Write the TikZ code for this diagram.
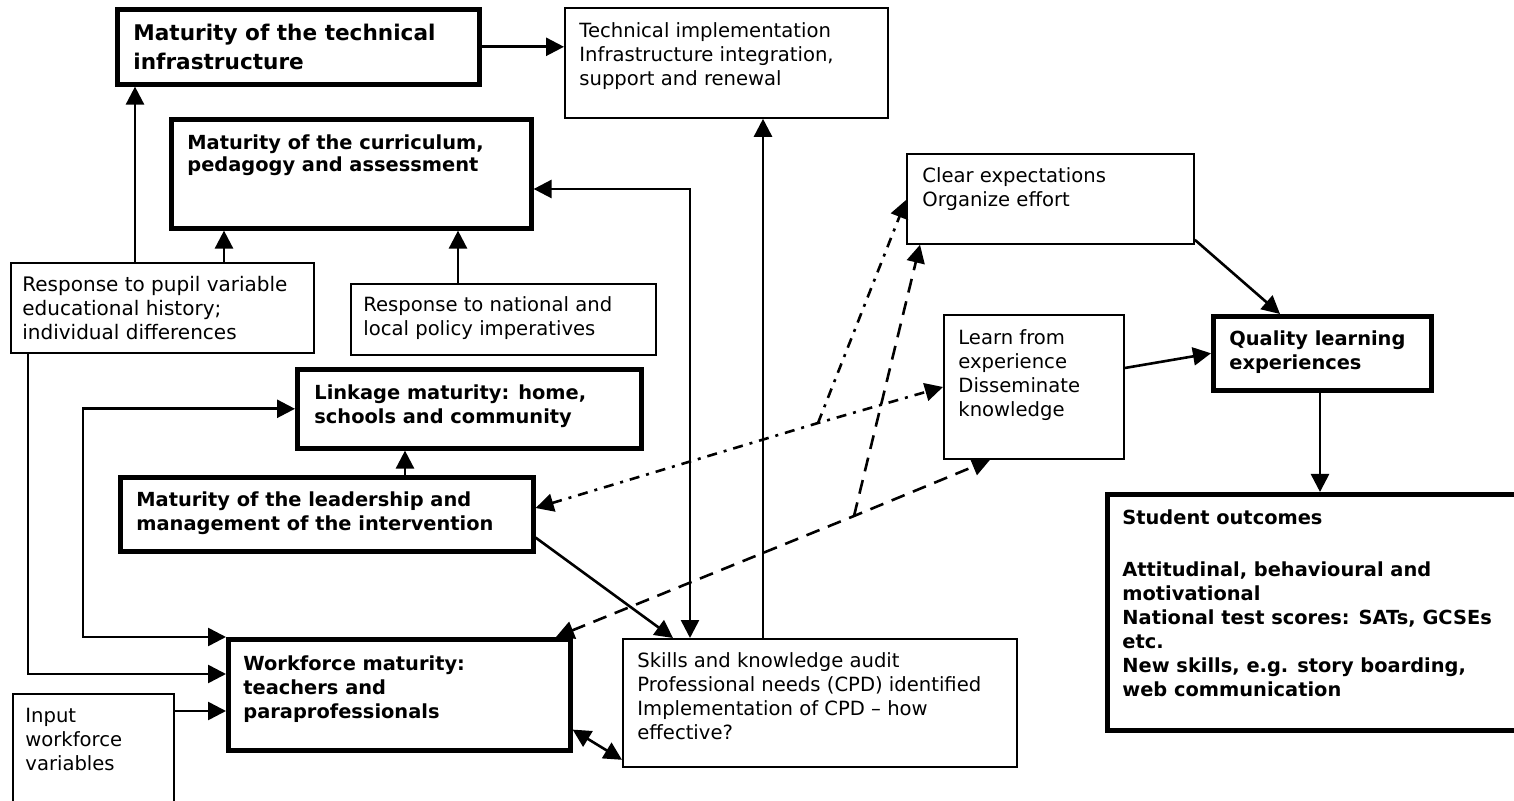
\documentclass[tikz,border=0pt]{standalone}
\usepackage{fontspec}
\setmainfont{DejaVu Sans}
\usetikzlibrary{arrows.meta,calc}
\begin{document}
\begin{tikzpicture}[x=0.5pt,y=-0.5pt,
  thickbox/.style={draw, line width=2.3pt, anchor=north west, inner sep=0pt},
  thinbox/.style={draw, line width=0.9pt, anchor=north west, inner sep=0pt},
  txt/.style={anchor=north west, inner sep=0pt, align=left, font=\fontsize{9.8}{12}\selectfont},
  btxt/.style={anchor=north west, inner sep=0pt, align=left, font=\fontsize{9.7}{12}\selectfont\bfseries},
  tip/.tip={Triangle[length=9pt,width=9pt]},
  conn/.style={line width=1.3pt, -tip},
  conntwo/.style={line width=1.3pt, tip-tip},
  dd/.style={line width=1.3pt, dash pattern=on 5pt off 3.5pt on 1.5pt off 3.5pt},
  dsh/.style={line width=1.3pt, dash pattern=on 7pt off 4.5pt},
]
\clip (0,0) rectangle (1514,801);
\fill[white] (0,0) rectangle (1514,801);

% boxes
\node[thickbox, minimum width=181pt, minimum height=37.5pt] (A) at (115,7) {};
\node[thinbox, minimum width=161.5pt, minimum height=55pt] (B) at (564,7) {};
\node[thickbox, minimum width=180pt, minimum height=54.5pt] (C) at (169,117) {};
\node[thinbox, minimum width=151.5pt, minimum height=45pt] (D) at (10,262) {};
\node[thinbox, minimum width=152.5pt, minimum height=35.5pt] (E) at (350,283) {};
\node[thickbox, minimum width=172pt, minimum height=39.5pt] (F) at (295,367) {};
\node[thickbox, minimum width=206.5pt, minimum height=37pt] (G) at (118,475) {};
\node[thickbox, minimum width=171pt, minimum height=55.5pt] (H) at (226,637) {};
\node[thinbox, minimum width=80.5pt, minimum height=70pt] (I) at (12,693) {};
\node[thinbox, minimum width=197pt, minimum height=64pt] (J) at (622,638) {};
\node[thinbox, minimum width=143.5pt, minimum height=45pt] (K) at (906,153) {};
\node[thinbox, minimum width=90pt, minimum height=72pt] (L) at (943,314) {};
\node[thickbox, minimum width=109pt, minimum height=37pt] (M) at (1211,314) {};
\node[thickbox, minimum width=215pt, minimum height=118pt] (N) at (1105,492) {};

% texts
\node[btxt, font=\fontsize{10.8}{14.5}\selectfont\bfseries] (At) at (133,24) {Maturity of the technical\\infrastructure};
\node[txt] (Bt) at (579,22) {Technical implementation\\Infrastructure integration,\\support and renewal};
\node[btxt, font=\fontsize{9.7}{11}\selectfont\bfseries] (Ct) at (187,134) {Maturity of the curriculum,\\pedagogy and assessment};
\node[txt, font=\fontsize{10}{12}\selectfont] (Dt) at (22,276) {Response to pupil variable\\educational history;\\individual differences};
\node[txt] (Et) at (363,296) {Response to national and\\local policy imperatives};
\node[btxt] (Ft) at (314,384) {Linkage maturity: home,\\schools and community};
\node[btxt] (Gt) at (136,491) {Maturity of the leadership and\\management of the intervention};
\node[btxt] (Ht) at (243,655) {Workforce maturity:\\teachers and\\paraprofessionals};
\node[txt] (It) at (25,708) {Input\\workforce\\variables};
\node[txt] (Jt) at (637,652) {Skills and knowledge audit\\Professional needs (CPD) identified\\Implementation of CPD -- how\\effective?};
\node[txt] (Kt) at (922,167) {Clear expectations\\Organize effort};
\node[txt] (Lt) at (958,329) {Learn from\\experience\\Disseminate\\knowledge};
\node[btxt] (Mt) at (1229,330) {Quality learning\\experiences};
\node[btxt] (Nt) at (1122,509) {Student outcomes\\[14pt]Attitudinal, behavioural and\\motivational\\National test scores: SATs, GCSEs\\etc.\\New skills, e.g. story boarding,\\web communication};

% solid connectors
\draw[conn] (A.east) -- (A.east -| B.west);
\draw[conn] (135,0 |- D.north) -- (135,0 |- A.south);
\draw[conn] (224,0 |- D.north) -- (224,0 |- C.south);
\draw[conn] (458,0 |- E.north) -- (458,0 |- C.south);
\draw[conntwo] (690,0 |- J.north) -- (690,189) -- (C.east |- 690,189);
\draw[conn] (763,0 |- J.north) -- (763,0 |- B.south);
\draw[conn] ($(G.south east)+(0,-16)$) -- (673,0 |- J.north);
\draw[conn] (405,0 |- G.north) -- (405,0 |- F.south);
\draw[conntwo] (F.west) -- (83,0 |- F.west) -- (83,637) -- (H.west |- 83,637);
\draw[conn] (28,0 |- D.south) -- (28,674) -- (H.west |- 28,674);
\draw[conn] (I.east |- 0,711) -- (H.west |- 0,711);
\draw[conntwo] ($(H.south east)+(0,-23)$) -- ($(J.south west)+(0,-8)$);
\draw[conn] ($(K.south east)+(0,-5)$) -- (1280,0 |- M.north);
\draw[conn] (L.east |- 0,368) -- (M.west);
\draw[conn] (1320,0 |- M.south) -- (1320,0 |- N.north);

% dash-dot connectors
\coordinate (bp1) at (818,423);
\draw[dd, tip-tip] (G.east |- 0,508) -- (bp1) -- (L.west |- 0,387);
\draw[dd, -tip] (bp1) -- (K.west |- 0,200);
% dashed connectors
\coordinate (bp2) at (854,516);
\draw[dsh, tip-tip] (556,0 |- H.north) -- (bp2) -- (990,0 |- L.south);
\draw[dsh, -tip] (bp2) -- (920,0 |- K.south);
\end{tikzpicture}
\end{document}
